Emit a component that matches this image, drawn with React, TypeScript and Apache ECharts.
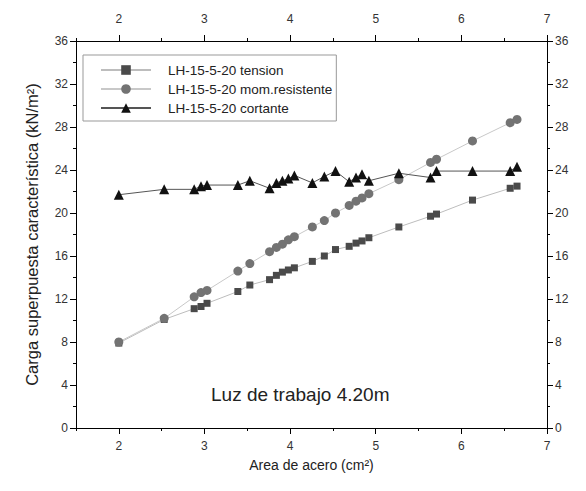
import React, { useEffect, useRef } from "react";
import * as echarts from "echarts";

const areaX = [2.0, 2.53, 2.88, 2.96, 3.03, 3.39, 3.53, 3.76, 3.84, 3.91, 3.98, 4.05, 4.26, 4.40, 4.53, 4.69, 4.77, 4.84, 4.92, 5.27, 5.64, 5.71, 6.13, 6.57, 6.65];
const tensionY = [7.9, 10.1, 11.1, 11.3, 11.6, 12.7, 13.3, 13.8, 14.2, 14.5, 14.7, 14.9, 15.5, 16.0, 16.6, 16.9, 17.2, 17.4, 17.7, 18.7, 19.7, 19.9, 21.2, 22.3, 22.5];
const momY = [8.0, 10.2, 12.2, 12.6, 12.8, 14.6, 15.3, 16.4, 16.8, 17.1, 17.5, 17.8, 18.7, 19.3, 20.0, 20.7, 21.1, 21.4, 21.8, 23.1, 24.7, 25.0, 26.7, 28.4, 28.7];
const cortY = [21.7, 22.2, 22.2, 22.5, 22.6, 22.6, 23.0, 22.3, 22.8, 23.0, 23.2, 23.5, 22.8, 23.4, 23.9, 22.9, 23.3, 23.6, 23.0, 23.7, 23.3, 23.9, 23.9, 23.9, 24.3];

const seriesNames = ["LH-15-5-20 tension", "LH-15-5-20 mom.resistente", "LH-15-5-20 cortante"];
const xMajorTicks = [2, 3, 4, 5, 6, 7];
const xMinorTicks = [1.5, 2.5, 3.5, 4.5, 5.5, 6.5];
const annotation = "Luz de trabajo 4.20m";
const xTitle = "Area de acero (cm²)";
const yTitle = "Carga superpuesta característica (kN/m²)";

const FONT = "'Liberation Sans', Arial, sans-serif";

export default function App() {
  const ref = useRef<HTMLDivElement>(null);
  useEffect(() => {
    if (!ref.current) return;
    const chart = echarts.init(ref.current, null, { renderer: "svg" });
    const pairs = (ys: number[]) => areaX.map((x, i) => [x, ys[i]]);
    const axisLine = { show: true, onZero: false, lineStyle: { color: "#000", width: 1 } };
    const lbl = { color: "#333", fontSize: 12, fontFamily: FONT };
    const majorX = (pos: "top" | "bottom", showName: boolean) => ({
      type: "value",
      position: pos,
      min: 1.5,
      max: 7,
      axisLine,
      axisTick: { show: true, length: 6, customValues: xMajorTicks, lineStyle: { color: "#000" } },
      axisLabel: { ...lbl, margin: pos === "bottom" ? 12 : 16, customValues: xMajorTicks },
      splitLine: { show: false },
      name: showName ? xTitle : "",
      nameLocation: "middle",
      nameGap: 30,
      nameTextStyle: { color: "#222", fontSize: 14, fontFamily: FONT },
    });
    const minorX = (pos: "top" | "bottom") => ({
      type: "value",
      position: pos,
      min: 1.5,
      max: 7,
      axisLine: { show: false, onZero: false },
      axisTick: { show: true, length: 3, customValues: xMinorTicks, lineStyle: { color: "#000" } },
      axisLabel: { show: false },
      splitLine: { show: false },
    });
    const yAx = (pos: "left" | "right", showName: boolean) => ({
      type: "value",
      position: pos,
      min: 0,
      max: 36,
      interval: 4,
      axisLine,
      axisTick: { show: true, length: 6, lineStyle: { color: "#000" } },
      minorTick: { show: true, splitNumber: 2, length: 3, lineStyle: { color: "#000" } },
      axisLabel: { ...lbl, margin: 8 },
      splitLine: { show: false },
      name: showName ? yTitle : "",
      nameLocation: "middle",
      nameGap: 36,
      nameTextStyle: { color: "#222", fontSize: 16.5, fontFamily: FONT },
    });
    chart.setOption({
      animation: false,
      backgroundColor: "#fff",
      textStyle: { fontFamily: FONT },
      grid: { left: 68, right: 31, top: 33, bottom: 55, containLabel: false },
      xAxis: [majorX("bottom", true), minorX("bottom"), majorX("top", false), minorX("top")],
      yAxis: [yAx("left", true), yAx("right", false)],
      legend: {
        orient: "vertical",
        left: 75,
        top: 47,
        padding: [8, 4, 6, 17],
        itemWidth: 50,
        itemHeight: 12,
        itemGap: 5,
        borderColor: "#999",
        borderWidth: 1,
        backgroundColor: "#fff",
        textStyle: { fontSize: 13.5, color: "#222", fontFamily: FONT, lineHeight: 14, padding: [0, 0, 0, 12] },
        data: seriesNames,
      },
      series: [
        {
          name: seriesNames[0],
          type: "line",
          data: pairs(tensionY),
          symbol: "rect",
          symbolSize: 7,
          itemStyle: { color: "#4a4a4a" },
          lineStyle: { color: "#bdbdbd", width: 1 },
        },
        {
          name: seriesNames[1],
          type: "line",
          data: pairs(momY),
          symbol: "circle",
          symbolSize: 9,
          itemStyle: { color: "#737373" },
          lineStyle: { color: "#c8c8c8", width: 1 },
        },
        {
          name: seriesNames[2],
          type: "line",
          data: pairs(cortY),
          symbol: "triangle",
          symbolSize: 10,
          itemStyle: { color: "#111" },
          lineStyle: { color: "#555", width: 1 },
        },
      ],
      graphic: [
        {
          type: "text",
          left: 203,
          top: 377,
          style: { text: annotation, fontSize: 19, fill: "#222", fontFamily: FONT },
        },
      ],
    });
    return () => chart.dispose();
  }, []);
  return <div ref={ref} style={{ width: 570, height: 475 }} />;
}
